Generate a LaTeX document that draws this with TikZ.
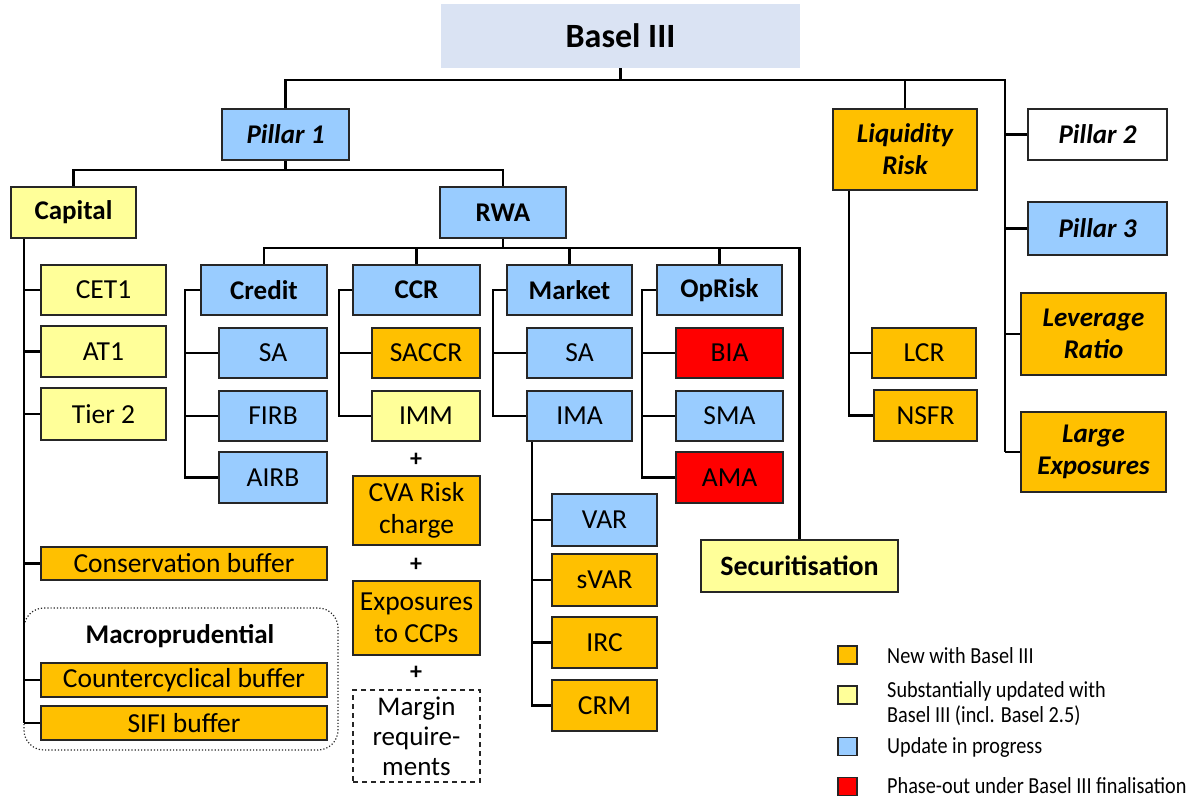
\documentclass[tikz,border=0pt]{standalone}
\usepackage{fontspec}
\setmainfont{Carlito}
\newfontfamily\legendfont{Carlito}[FakeStretch=0.88]
\usetikzlibrary{calc}
\definecolor{cblue}{HTML}{99CCFF}
\definecolor{cyell}{HTML}{FFFF99}
\definecolor{corng}{HTML}{FFC000}
\definecolor{cred}{HTML}{FF0000}
\definecolor{cbasel}{HTML}{DAE3F3}
\tikzset{
  conn/.style={line width=2.6pt, draw=black},
  bx/.style={draw=black!85, line width=2pt, inner sep=0pt, align=center,
    font=\fontsize{27.5}{32}\selectfont},
  bb/.style={bx, font=\fontsize{27}{32}\selectfont\bfseries},
  bi/.style={bx, font=\fontsize{27}{32}\selectfont\bfseries\itshape},
  blue/.style={fill=cblue}, yell/.style={fill=cyell}, orng/.style={fill=corng}, redf/.style={fill=cred},
  legsq/.style={draw=black!85, line width=1.5pt, minimum width=19pt, minimum height=18pt, inner sep=0pt},
  legtx/.style={anchor=west, inner sep=0pt, align=left, font=\legendfont\fontsize{23}{25}\selectfont},
  plus/.style={inner sep=0pt, font=\fontsize{24}{24}\selectfont\bfseries}
}
\begin{document}
\begin{tikzpicture}[x=1pt,y=-1pt]
\useasboundingbox (0,0) rectangle (1199,798);
% top
\node[fill=cbasel, inner sep=0pt, minimum width=359pt, minimum height=64pt, font=\fontsize{34}{40}\selectfont\bfseries] (basel) at (620.5,36) {Basel III};
\node[bi,blue,minimum width=127pt,minimum height=51pt] (p1) at (285.5,134.5) {Pillar 1};
\node[bi,orng,minimum width=144pt,minimum height=81pt] (lr) at (905,149.5) {Liquidity\\Risk};
\node[bi,fill=white,minimum width=139pt,minimum height=51pt] (p2) at (1097.5,134.5) {Pillar 2};
\node[bi,blue,minimum width=139pt,minimum height=53pt] (p3) at (1097.5,228.5) {Pillar 3};
\node[bi,orng,minimum width=145pt,minimum height=82pt] (lev) at (1093.5,334) {Leverage\\Ratio};
\node[bi,orng,minimum width=145pt,minimum height=80pt] (lexp) at (1093.5,452) {Large\\Exposures};
% pillar 1 level
\node[bb,yell,minimum width=125pt,minimum height=51pt] (cap) at (73.5,212.5) {Capital};
\node[bb,blue,minimum width=126pt,minimum height=51pt] (rwa) at (503,212.5) {RWA};
% capital
\node[bx,yell,minimum width=125pt,minimum height=50pt] (cet1) at (103.5,290) {CET1};
\node[bx,yell,minimum width=125pt,minimum height=51pt] (at1) at (103.5,351.5) {AT1};
\node[bx,yell,minimum width=125pt,minimum height=52pt] (t2) at (103.5,414) {Tier 2};
\node[bx,orng,minimum width=286pt,minimum height=33pt] (cons) at (184,563.5) {Conservation buffer};
\draw[black!85, line width=1.2pt, dotted, rounded corners=20pt] (24,608) rectangle (338,750);
\node[inner sep=0pt, font=\fontsize{27}{32}\selectfont\bfseries] (macro) at (180,636) {Macroprudential};
\node[bx,orng,minimum width=286pt,minimum height=34pt] (ccyb) at (184,680) {Countercyclical buffer};
\node[bx,orng,minimum width=286pt,minimum height=34pt] (sifi) at (184,723) {SIFI buffer};
% credit
\node[bb,blue,minimum width=126pt,minimum height=50pt] (credit) at (264,290) {Credit};
\node[bx,blue,minimum width=108pt,minimum height=50pt] (csa) at (273,353) {SA};
\node[bx,blue,minimum width=108pt,minimum height=50pt] (firb) at (273,416) {FIRB};
\node[bx,blue,minimum width=108pt,minimum height=51pt] (airb) at (273,477.5) {AIRB};
% ccr
\node[bb,blue,minimum width=127pt,minimum height=50pt] (ccr) at (416.5,290) {CCR};
\node[bx,orng,minimum width=108pt,minimum height=50pt] (saccr) at (426,353) {SACCR};
\node[bx,yell,minimum width=108pt,minimum height=50pt] (imm) at (426,416) {IMM};
\node[plus] (pl1) at (416,460) {+};
\node[bx,orng,minimum width=127pt,minimum height=69pt] (cva) at (416.5,510.5) {CVA Risk\\charge};
\node[plus] (pl2) at (416,565) {+};
\node[bx,orng,minimum width=127pt,minimum height=74pt] (eccp) at (416.5,618) {Exposures\\to CCPs};
\node[plus] (pl3) at (416,673) {+};
\node[bx,fill=white,dashed,line width=1.4pt,dash pattern=on 5pt off 4pt,minimum width=127pt,minimum height=92pt,font=\fontsize{27}{30}\selectfont] (marg) at (416.5,736) {Margin\\require-\\ments};
% market
\node[bb,blue,minimum width=125pt,minimum height=50pt] (mkt) at (569.5,290) {Market};
\node[bx,blue,minimum width=105pt,minimum height=50pt] (msa) at (579.5,353) {SA};
\node[bx,blue,minimum width=105pt,minimum height=50pt] (ima) at (579.5,416) {IMA};
\node[bx,blue,minimum width=105pt,minimum height=52pt] (var) at (604.5,520) {VAR};
\node[bx,orng,minimum width=105pt,minimum height=52pt] (svar) at (604.5,580) {sVAR};
\node[bx,orng,minimum width=105pt,minimum height=51pt] (irc) at (604.5,642.5) {IRC};
\node[bx,orng,minimum width=105pt,minimum height=51pt] (crm) at (604.5,705.5) {CRM};
% oprisk
\node[bb,blue,minimum width=125pt,minimum height=50pt] (opr) at (719.5,290) {OpRisk};
\node[bx,redf,minimum width=107pt,minimum height=50pt] (bia) at (729.5,353) {BIA};
\node[bx,blue,minimum width=107pt,minimum height=50pt] (sma) at (729.5,416) {SMA};
\node[bx,redf,minimum width=107pt,minimum height=51pt] (ama) at (729.5,477.5) {AMA};
\node[bb,yell,minimum width=197pt,minimum height=52pt,font=\fontsize{28}{32}\selectfont\bfseries] (sec) at (799.5,566) {Securitisation};
% liquidity
\node[bx,orng,minimum width=104pt,minimum height=50pt] (lcr) at (924,353) {LCR};
\node[bx,orng,minimum width=103pt,minimum height=51pt] (nsfr) at (925.5,415.5) {NSFR};
% legend
\node[legsq,fill=corng] (lg1) at (847.5,655) {};
\node[legtx] (lt1) at (887,656) {New with Basel III};
\node[legsq,fill=cyell] (lg2) at (847.5,695) {};
\node[legtx] (lt2) at (887,704) {Substantially updated with\\Basel III (incl. Basel 2.5)};
\node[legsq,fill=cblue] (lg3) at (847.5,746.5) {};
\node[legtx] (lt3) at (887,747) {Update in progress};
\node[legsq,fill=cred] (lg4) at (847.5,786.5) {};
\node[legtx] (lt4) at (887,786) {Phase-out under Basel III finalisation};
% connectors
\coordinate (h0) at (1005,80);
\coordinate (h1) at (0,170);
\coordinate (h2) at (0,248);
\coordinate (cv) at (24,0);
\coordinate (crx) at (185,0);
\coordinate (ccx) at (339,0);
\coordinate (mkx) at (493,0);
\coordinate (imx) at (532,0);
\coordinate (opx) at (642,0);
\coordinate (lqx) at (849,0);
\draw[conn] (basel.south) -- (basel.south |- h0);
\draw[conn] (p1.north) -- (p1.north |- h0) -- (h0) -- (h0 |- lexp.west);
\draw[conn] (lr.north) -- (lr.north |- h0);
\draw[conn] (p2.west) -- (p2.west -| h0);
\draw[conn] (p3.west) -- (p3.west -| h0);
\draw[conn] (lev.west) -- (lev.west -| h0);
\draw[conn] (lexp.west) -- (lexp.west -| h0);
\draw[conn] (p1.south) -- (p1.south |- h1);
\draw[conn] (cap.north) -- (cap.north |- h1) -- (rwa.north |- h1) -- (rwa.north);
% capital
\draw[conn] (cv |- cap.south) -- (cv |- sifi.west);
\draw[conn] (cet1.west) -- (cet1.west -| cv);
\draw[conn] (at1.west) -- (at1.west -| cv);
\draw[conn] (t2.west) -- (t2.west -| cv);
\draw[conn] (cons.west) -- (cons.west -| cv);
\draw[conn] (ccyb.west) -- (ccyb.west -| cv);
\draw[conn] (sifi.west) -- (sifi.west -| cv);
% rwa
\draw[conn] (rwa.south) -- (rwa.south |- h2);
\draw[conn] (credit.north) -- (credit.north |- h2) -- (sec.north |- h2) -- (sec.north);
\draw[conn] (ccr.north) -- (ccr.north |- h2);
\draw[conn] (mkt.north) -- (mkt.north |- h2);
\draw[conn] (opr.north) -- (opr.north |- h2);
% credit
\draw[conn] (credit.west) -- (credit.west -| crx) -- (crx |- airb.west) -- (airb.west);
\draw[conn] (csa.west) -- (csa.west -| crx);
\draw[conn] (firb.west) -- (firb.west -| crx);
% ccr
\draw[conn] (ccr.west) -- (ccr.west -| ccx) -- (ccx |- imm.west) -- (imm.west);
\draw[conn] (saccr.west) -- (saccr.west -| ccx);
% market
\draw[conn] (mkt.west) -- (mkt.west -| mkx) -- (mkx |- ima.west) -- (ima.west);
\draw[conn] (msa.west) -- (msa.west -| mkx);
\draw[conn] (imx |- ima.south) -- (imx |- crm.west) -- (crm.west);
\draw[conn] (var.west) -- (var.west -| imx);
\draw[conn] (svar.west) -- (svar.west -| imx);
\draw[conn] (irc.west) -- (irc.west -| imx);
% oprisk
\draw[conn] (opr.west) -- (opr.west -| opx) -- (opx |- ama.west) -- (ama.west);
\draw[conn] (bia.west) -- (bia.west -| opx);
\draw[conn] (sma.west) -- (sma.west -| opx);
% liquidity
\draw[conn] (lqx |- lr.south) -- (lqx |- nsfr.west) -- (nsfr.west);
\draw[conn] (lcr.west) -- (lcr.west -| lqx);
\end{tikzpicture}
\end{document}
